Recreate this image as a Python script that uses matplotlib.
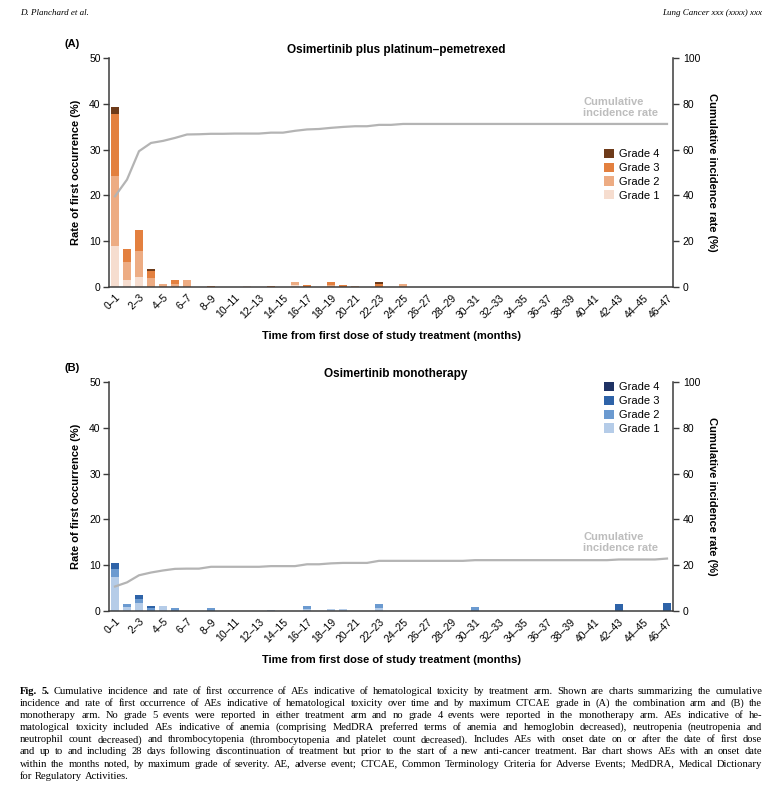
import matplotlib.pyplot as plt
import numpy as np

plt.rcParams['font.family'] = ['Liberation Sans', 'DejaVu Sans']

n_bins = 47
months = [f'{i}\u2013{i + 1}' for i in range(n_bins)]
grades = ['Grade 1', 'Grade 2', 'Grade 3', 'Grade 4']

# (A) combination arm: rate of first occurrence (%) per month bin, by max grade
combo_rates = {
    'Grade 1': {0: 9.0, 1: 1.5, 2: 2.2, 11: 0.2, 15: 0.4},
    'Grade 2': {0: 15.2, 1: 4.0, 2: 5.7, 3: 1.9, 4: 0.7, 5: 0.7, 6: 1.6,
                15: 0.6, 18: 0.4, 20: 0.3, 24: 0.6},
    'Grade 3': {0: 13.5, 1: 2.7, 2: 4.6, 3: 1.6, 5: 0.8, 8: 0.3, 13: 0.3,
                16: 0.4, 18: 0.6, 19: 0.5, 22: 0.7},
    'Grade 4': {0: 1.5, 3: 0.4, 22: 0.5},
}
# cumulative incidence (%) at each month bin
combo_cum = [39.6, 46.9, 59.3, 62.9, 63.8, 65.1, 66.6, 66.7, 66.9, 66.9,
             67.0, 67.0, 67.0, 67.4, 67.4, 68.2, 68.8, 69.0, 69.5, 69.9,
             70.2, 70.2, 70.8, 70.8, 71.2, 71.2, 71.2, 71.2, 71.2, 71.2,
             71.2, 71.2, 71.2, 71.2, 71.2, 71.2, 71.2, 71.2, 71.2, 71.2,
             71.2, 71.2, 71.2, 71.2, 71.2, 71.2, 71.2]

# (B) monotherapy arm (no grade 4 events)
mono_rates = {
    'Grade 1': {0: 7.5, 1: 0.9, 2: 1.8, 4: 1.1, 13: 0.3, 16: 0.5, 18: 0.4,
                19: 0.4, 22: 0.7},
    'Grade 2': {0: 1.7, 1: 0.7, 2: 0.9, 3: 0.65, 5: 0.7, 8: 0.7, 16: 0.6,
                22: 0.8, 30: 0.9},
    'Grade 3': {0: 1.2, 2: 0.7, 3: 0.45, 42: 1.5, 46: 1.8},
    'Grade 4': {},
}
mono_cum = [10.7, 12.5, 15.6, 16.8, 17.7, 18.4, 18.5, 18.5, 19.3, 19.3,
            19.3, 19.3, 19.3, 19.6, 19.6, 19.6, 20.4, 20.4, 20.8, 21.0,
            21.0, 21.0, 21.9, 21.9, 21.9, 21.9, 21.9, 21.9, 21.9, 21.9,
            22.2, 22.2, 22.2, 22.2, 22.2, 22.2, 22.2, 22.2, 22.2, 22.2,
            22.2, 22.2, 22.5, 22.5, 22.5, 22.5, 22.9]

orange = ['#f6ddcf', '#edac83', '#e3803f', '#6e3b1a']
blue = ['#b5cce8', '#6b9ad0', '#2e63a8', '#1f3264']

caption_lines = [
    'Fig. 5. Cumulative incidence and rate of first occurrence of AEs indicative of hematological toxicity by treatment arm. Shown are charts summarizing the cumulative',
    'incidence and rate of first occurrence of AEs indicative of hematological toxicity over time and by maximum CTCAE grade in (A) the combination arm and (B) the',
    'monotherapy arm. No grade 5 events were reported in either treatment arm and no grade 4 events were reported in the monotherapy arm. AEs indicative of he-',
    'matological toxicity included AEs indicative of anemia (comprising MedDRA preferred terms of anemia and hemoglobin decreased), neutropenia (neutropenia and',
    'neutrophil count decreased) and thrombocytopenia (thrombocytopenia and platelet count decreased). Includes AEs with onset date on or after the date of first dose',
    'and up to and including 28 days following discontinuation of treatment but prior to the start of a new anti-cancer treatment. Bar chart shows AEs with an onset date',
    'within the months noted, by maximum grade of severity. AE, adverse event; CTCAE, Common Terminology Criteria for Adverse Events; MedDRA, Medical Dictionary',
    'for Regulatory Activities.',
]

W, H = 777, 800
fig = plt.figure(figsize=(W / 100, H / 100), dpi=100)
spine_col = '#3c3c3c'


def panel(top_px, rates, cum, colors, title, letter, legend_top):
    ax = fig.add_axes([109 / W, 1 - (top_px + 229) / H, 564 / W, 229 / H])
    x = np.arange(n_bins)
    bottom = np.zeros(n_bins)
    handles = []
    for g, c in zip(grades, colors):
        vals = np.array([rates[g].get(i, 0) for i in range(n_bins)])
        handles.append(ax.bar(x, vals, 0.6, bottom=bottom, color=c, label=g))
        bottom += vals
    ax.set_xlim(-0.5, n_bins - 0.5)
    ax.set_ylim(0, 50)
    ax.set_yticks(range(0, 51, 10))
    ax.set_xticks(x[::2])
    ax.set_xticklabels(months[::2], rotation=45, ha='right',
                       rotation_mode='anchor', fontsize=7.5)
    ax.tick_params(axis='x', length=0, pad=4)
    ax.tick_params(axis='y', length=4, width=1, color=spine_col, labelsize=7.5, pad=2)
    for s in ['top', 'right']:
        ax.spines[s].set_visible(False)
    for s in ['left', 'bottom']:
        ax.spines[s].set_color(spine_col)
        ax.spines[s].set_linewidth(1.1)
    ax.set_ylabel('Rate of first occurrence (%)', fontsize=8, fontweight='bold', labelpad=6)
    ax.set_xlabel('Time from first dose of study treatment (months)',
                  fontsize=8, fontweight='bold', labelpad=8)

    ax2 = ax.twinx()
    ax2.plot(x, cum, color='#b4b4b4', lw=1.6)
    ax2.set_ylim(0, 100)
    ax2.set_yticks(range(0, 101, 20))
    ax2.tick_params(axis='y', length=4, width=1, color=spine_col, labelsize=7.5, pad=3)
    for s in ['top', 'left', 'bottom']:
        ax2.spines[s].set_visible(False)
    ax2.spines['right'].set_color(spine_col)
    ax2.spines['right'].set_linewidth(1.1)
    ax2.set_ylabel('Cumulative incidence rate (%)', fontsize=8, fontweight='bold',
                   rotation=270, labelpad=12)
    ax2.text(39.0, cum[-1] + 2.5, 'Cumulative\nincidence rate', color='#bdbdbd',
             fontsize=8, fontweight='bold', ha='left', va='bottom', linespacing=1.15)

    ax2.legend(handles[::-1], grades[::-1], loc='upper left',
               bbox_to_anchor=(0.877, legend_top), frameon=False, fontsize=8,
               handlelength=0.9, handleheight=0.9, handletextpad=0.5,
               labelspacing=0.3, borderpad=0, borderaxespad=0)

    fig.text(396 / W, 1 - (top_px - 8) / H, title, fontsize=8.5, fontweight='bold',
             ha='center', va='center')
    fig.text(72 / W, 1 - (top_px - 14) / H, letter, fontsize=8, fontweight='bold',
             ha='center', va='center')


panel(58, combo_rates, combo_cum, orange, 'Osimertinib plus platinum\u2013pemetrexed', '(A)', 0.603)
panel(382, mono_rates, mono_cum, blue, 'Osimertinib monotherapy', '(B)', 1.0)

# running header
fig.text(20 / W, 1 - 13 / H, 'D. Planchard et al.', fontsize=6.5, style='italic',
         family='Liberation Serif', va='center')
fig.text(762 / W, 1 - 13 / H, 'Lung Cancer xxx (xxxx) xxx', fontsize=6.5, style='italic',
         family='Liberation Serif', va='center', ha='right')

# justified caption, placed word by word on a common baseline
r = fig.canvas.get_renderer()
left, right = 20 / W, 762 / W
cap_size = 7.6
cap_font = 'Liberation Serif'
for k, line in enumerate(caption_lines):
    y = 1 - (693.5 + k * 12.2) / H
    words = line.split()
    texts = []
    for j, w in enumerate(words):
        bold = k == 0 and j < 2
        texts.append(fig.text(left, y, w, fontsize=cap_size, family=cap_font,
                              fontweight='bold' if bold else 'normal', va='baseline'))
    widths = [t.get_window_extent(r).width / W for t in texts]
    if k < len(caption_lines) - 1:
        gap = (right - left - sum(widths)) / (len(words) - 1)
    else:
        gap = cap_size * 0.25 * 100 / 72 / W
    xpos = left
    for t, wd in zip(texts, widths):
        t.set_x(xpos)
        xpos += wd + gap

fig.savefig('out.png', dpi=100)
